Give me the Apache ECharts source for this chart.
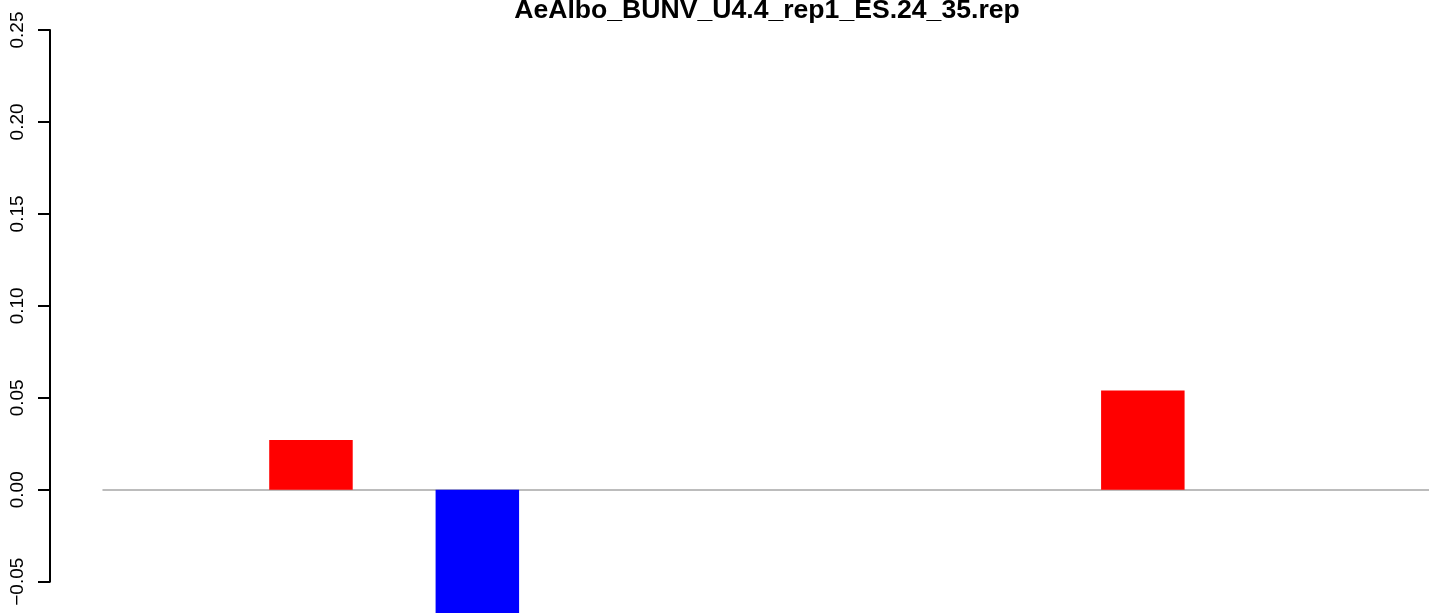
<!DOCTYPE html>
<html><head><meta charset="utf-8">
<script src="https://cdn.jsdelivr.net/npm/echarts@6/dist/echarts.min.js"></script>
<style>html,body{margin:0;padding:0;background:#fff}#c{width:1429px;height:613px}</style>
</head><body><div id="c"></div>
<script>
const chartTitle = 'AeAlbo_BUNV_U4.4_rep1_ES.24_35.rep';
const barValues = [0, 0.027, -0.09, 0, 0, 0, 0.054, 0, 0];
const yTickValues = [-0.05, 0, 0.05, 0.10, 0.15, 0.20, 0.25];
const posColor = '#ff0000';
const negColor = '#0000ff';

// R barplot layout with space = 1: bar i centred at 2*i + 1.5 (unit bar width)
const barData = barValues.map((v, i) => ({
  value: [2 * i + 1.5, v],
  itemStyle: { color: v >= 0 ? posColor : negColor }
}));

const chart = echarts.init(document.getElementById('c'), null, { renderer: 'canvas' });
chart.setOption({
  animation: false,
  backgroundColor: '#ffffff',
  title: {
    text: chartTitle,
    left: 762,
    textAlign: 'center',
    top: -8,
    textStyle: { fontFamily: 'Liberation Sans', fontWeight: 'bold', fontSize: 26.6, color: '#000' }
  },
  grid: { left: 103, right: 0, top: 30, bottom: 31.3 },
  xAxis: {
    type: 'value',
    min: 1,
    max: 16.94,
    axisLine: { show: true, onZero: true, lineStyle: { color: '#a6a6a6', width: 1.5 } },
    axisTick: { show: false },
    axisLabel: { show: false },
    splitLine: { show: false }
  },
  yAxis: {
    type: 'value',
    min: yTickValues[0],
    max: yTickValues[yTickValues.length - 1],
    interval: 0.05,
    offset: 53,
    axisLine: { show: true, lineStyle: { color: '#000', width: 2 } },
    axisTick: { show: true, length: 12, lineStyle: { color: '#000', width: 2 } },
    axisLabel: {
      show: true,
      rotate: 90,
      margin: 23,
      showMinLabel: true,
      showMaxLabel: true,
      fontFamily: 'Liberation Sans',
      fontSize: 19,
      color: '#000',
      formatter: v => (v < 0 ? '\u2212' : '') + Math.abs(v).toFixed(2)
    },
    splitLine: { show: false }
  },
  series: [{
    type: 'bar',
    data: barData,
    barWidth: 83.5,
    clip: false
  }]
});
</script>
</body></html>
